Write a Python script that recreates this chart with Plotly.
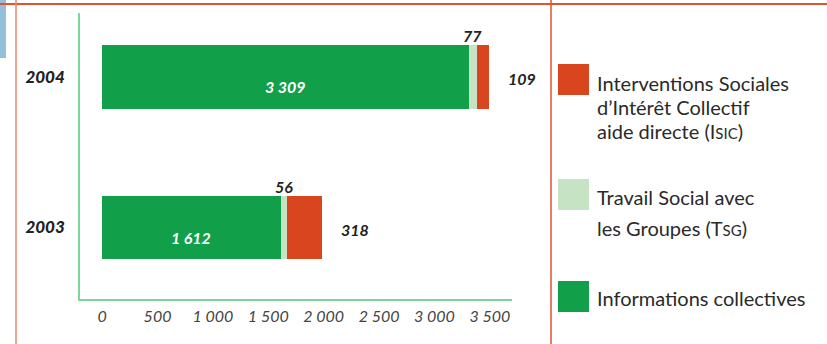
import plotly.graph_objects as go

# ---- data ----
years = ["2003", "2004"]
info_collectives = [1612, 3309]      # Informations collectives
travail_groupes = [56, 77]           # Travail Social avec les Groupes (TSG)
isic = [318, 109]                    # Interventions Sociales d'Intérêt Collectif (ISIC)
tick_vals = [0, 500, 1000, 1500, 2000, 2500, 3000, 3500]
tick_text = ["0", "500", "1 000", "1 500", "2 000", "2 500", "3 000", "3 500"]

W, H = 827, 344
L, R, T, B = 80, 315, 13, 45
PW, PH = W - L - R, H - T - B

def px(x):  # pixel -> paper x
    return (x - L) / PW

def py(y):  # pixel -> paper y
    return 1 - (y - T) / PH

FONT = "Lato"
GREEN = "#11A049"
LIGHT = "#C6E3C4"
RED = "#D9451F"
AXIS = "#7ED59B"
DARK = "#222222"

def fmt(v):
    return f"{v:,}".replace(",", " ")

fig = go.Figure()
fig.add_bar(y=years, x=info_collectives, orientation="h", marker_color=GREEN,
            name="Informations collectives", width=0.425, marker_line_width=0)
fig.add_bar(y=years, x=travail_groupes, orientation="h", marker_color=LIGHT,
            name="Travail Social avec les Groupes (TSG)", width=0.425, marker_line_width=0)
fig.add_bar(y=years, x=isic, orientation="h", marker_color=RED,
            name="Interventions Sociales d'Intérêt Collectif aide directe (ISIC)",
            width=0.425, marker_line_width=0)

ann = []
for i, (a, b, c) in enumerate(zip(info_collectives, travail_groupes, isic)):
    ann.append(dict(x=a / 2, y=i, text=f"<b><i>{fmt(a)}</i></b>", showarrow=False,
                    font=dict(family=FONT, size=16, color="white"), yshift=-10))
    ann.append(dict(x=a + b / 2, y=i, text=f"<b><i>{fmt(b)}</i></b>", showarrow=False,
                    font=dict(family=FONT, size=16, color=DARK), yanchor="bottom", yshift=30))
    ann.append(dict(x=a + b + c, y=i, text=f"<b><i>{fmt(c)}</i></b>", showarrow=False,
                    font=dict(family=FONT, size=16, color=DARK), xanchor="left", xshift=17, yshift=-2))

# legend (manual)
leg_font = dict(family=FONT, size=20, color="#2a2a2a")
sc = "font-size:15px"
legend_lines = [
    ("Interventions Sociales", 83),
    ("d’Intérêt Collectif", 107),
    (f"aide directe (I<span style='{sc}'>SIC</span>)", 131),
    ("Travail Social avec", 197),
    (f"les Groupes (T<span style='{sc}'>SG</span>)", 228),
    ("Informations collectives", 298),
]
for txt, yy in legend_lines:
    ann.append(dict(xref="paper", yref="paper", x=px(595), y=py(yy), text=txt,
                    showarrow=False, xanchor="left", yanchor="middle", font=leg_font))

shapes = []
for col, y0, y1 in [(RED, 64, 95), (LIGHT, 179, 210), (GREEN, 281, 312)]:
    shapes.append(dict(type="rect", xref="paper", yref="paper", x0=px(558), x1=px(589),
                       y0=py(y1), y1=py(y0), fillcolor=col, line_width=0))
# frame decorations
shapes.append(dict(type="rect", xref="paper", yref="paper", x0=px(0), x1=px(6),
                   y0=py(58), y1=py(0), fillcolor="#93BFDA", line_width=0, layer="below"))
shapes.append(dict(type="line", xref="paper", yref="paper", x0=px(0), x1=px(827),
                   y0=py(4), y1=py(4), line=dict(color="#E2532F", width=2)))
shapes.append(dict(type="line", xref="paper", yref="paper", x0=px(16), x1=px(16),
                   y0=py(0), y1=py(344), line=dict(color="#EE8A70", width=1.5)))
shapes.append(dict(type="line", xref="paper", yref="paper", x0=px(551), x1=px(551),
                   y0=py(0), y1=py(344), line=dict(color="#E0502F", width=1.5)))

fig.update_layout(
    width=W, height=H, margin=dict(l=L, r=R, t=T, b=B),
    barmode="stack", showlegend=False, bargap=0,
    plot_bgcolor="white", paper_bgcolor="white",
    annotations=ann, shapes=shapes,
    xaxis=dict(range=[-200, 3700], tickvals=tick_vals, ticktext=tick_text,
               showgrid=False, zeroline=False, showline=True, linecolor=AXIS, linewidth=1.5,
               ticks="", ticklabelstandoff=2,
               tickfont=dict(family=FONT, size=16, color="#444", style="italic")),
    yaxis=dict(type="category", range=[-0.475, 1.425], showgrid=False, zeroline=False,
               showline=True, linecolor=AXIS, linewidth=1.5, ticks="", ticklabelstandoff=10,
               tickfont=dict(family=FONT, size=17, color=DARK, style="italic", weight=900)),
)

fig.write_html("out.html")
